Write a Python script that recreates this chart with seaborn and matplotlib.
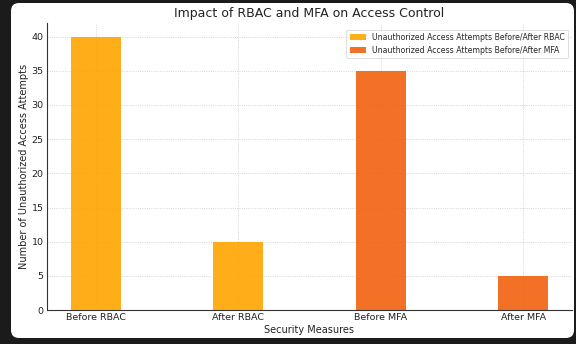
import matplotlib
matplotlib.use("Agg")
import matplotlib.pyplot as plt
from matplotlib.patches import FancyBboxPatch
from matplotlib.transforms import IdentityTransform
import seaborn as sns
import pandas as pd

# Unauthorized access attempts before and after each control
measures = ["Before RBAC", "After RBAC", "Before MFA", "After MFA"]
attempts = [40, 10, 35, 5]
groups = [
    "Unauthorized Access Attempts Before/After RBAC",
    "Unauthorized Access Attempts Before/After MFA",
]
group_of_measure = [groups[0], groups[0], groups[1], groups[1]]
colors = ["#FFA500", "#F2600F"]

df = pd.DataFrame({
    "Security Measures": measures,
    "Attempts": attempts,
    "Group": group_of_measure,
})

sns.set_style("white")
plt.rcParams["font.family"] = ["DejaVu Sans"]

fig = plt.figure(figsize=(5.76, 3.44), dpi=100)
fig.patch.set_facecolor("#1b1b1b")

# white card with rounded corners inside the dark frame
card = FancyBboxPatch((11, 6), 563, 335, boxstyle="round,pad=0,rounding_size=8",
                      transform=IdentityTransform(), facecolor="white",
                      edgecolor="none", zorder=-10)
fig.patches.append(card)

ax = fig.add_axes([47 / 576, 34 / 344, 525 / 576, 287 / 344])
ax.set_facecolor("none")

sns.barplot(data=df, x="Security Measures", y="Attempts", hue="Group",
            palette=colors, saturation=1, dodge=False, width=0.35, alpha=0.9,
            errorbar=None, linewidth=0, ax=ax)

ax.set_xlim(-0.3425, 3.3425)
ax.set_ylim(0, 42)
ax.set_yticks(range(0, 41, 5))
ax.set_axisbelow(True)
ax.grid(True, axis="both", linestyle=":", linewidth=0.6, color="#c8c8c8")

for side in ("top", "right"):
    ax.spines[side].set_visible(False)
for side in ("left", "bottom"):
    ax.spines[side].set_color("#333333")
    ax.spines[side].set_linewidth(0.8)

ax.tick_params(axis="both", labelsize=6.8, length=0, labelcolor="#222222")
ax.tick_params(axis="x", pad=2.5)
ax.tick_params(axis="y", pad=2.5)
ax.set_xlabel("Security Measures", fontsize=7, color="#222222", labelpad=1.5)
ax.set_ylabel("Number of Unauthorized Access Attempts", fontsize=7,
              color="#222222", labelpad=1.5)
ax.set_title("Impact of RBAC and MFA on Access Control", fontsize=9,
             color="#222222", pad=4)

leg = ax.legend(loc="upper right", fontsize=5.6, frameon=True,
                handlelength=2.1, handleheight=0.8, borderpad=0.4,
                labelspacing=0.5, handletextpad=0.8,
                bbox_to_anchor=(1.0, 0.99))
leg.get_frame().set_edgecolor("#d0d0d0")
leg.get_frame().set_linewidth(0.6)

fig.savefig("out.png", dpi=100, facecolor=fig.get_facecolor())
